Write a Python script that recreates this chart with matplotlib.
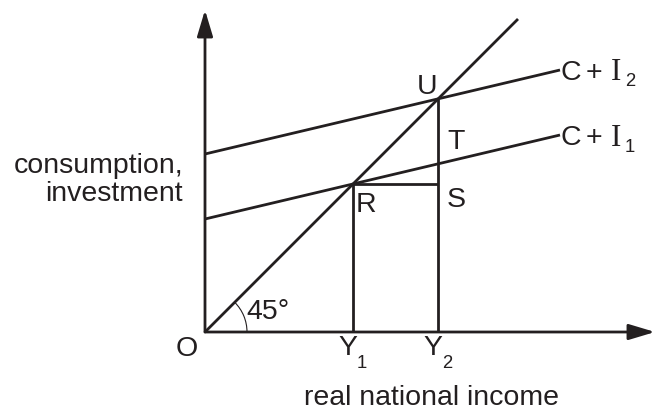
import matplotlib
matplotlib.use("Agg")
import matplotlib.pyplot as plt
from matplotlib.patches import Arc

# ---- data (in chart units, origin at O) ----
x_span = [0, 355]                 # horizontal extent of the C + I lines
ci1_values = [113, 197]           # C + I1 at x_span ends
ci2_values = [178, 262]           # C + I2 at x_span ends
diag_x = [0, 313]                 # 45-degree line
diag_y = [0, 313]
Y1 = 148                          # equilibrium income 1 (point R)
Y2 = 233                          # equilibrium income 2 (point U)
line_subs = ["1", "2"]

INK = "#231f20"
FONT = "Liberation Sans"
FS = 20.5

fig = plt.figure(figsize=(6.56, 4.19), dpi=100)
ax = fig.add_axes([0, 0, 1, 1])
ax.set_xlim(-205, 451)
ax.set_ylim(-87, 332)
ax.axis("off")

lw = 2.0
# axes with arrows
ax.annotate("", xy=(450, 0), xytext=(0, 0),
            arrowprops=dict(arrowstyle="-|>,head_length=0.8,head_width=0.24",
                            mutation_scale=20, lw=lw, color=INK,
                            shrinkA=0, shrinkB=0))
ax.annotate("", xy=(0, 322), xytext=(0, 0),
            arrowprops=dict(arrowstyle="-|>,head_length=0.8,head_width=0.24",
                            mutation_scale=20, lw=lw, color=INK,
                            shrinkA=0, shrinkB=0))

# lines
ax.plot(diag_x, diag_y, color=INK, lw=lw, solid_capstyle="butt")
ax.plot(x_span, ci1_values, color=INK, lw=lw, solid_capstyle="butt")
ax.plot(x_span, ci2_values, color=INK, lw=lw, solid_capstyle="butt")
ax.plot([Y1, Y1], [0, Y1], color=INK, lw=lw, solid_capstyle="butt")
ax.plot([Y2, Y2], [0, Y2], color=INK, lw=lw, solid_capstyle="butt")
ax.plot([Y1, Y2], [Y1, Y1], color=INK, lw=lw, solid_capstyle="butt")

# 45 degree arc
ax.add_patch(Arc((0, 0), 84, 84, theta1=0, theta2=45, color=INK, lw=0.8))
ax.text(63, 20, "45°", fontsize=FS, family=FONT, color=INK, ha="center", va="center")

# point labels
tkw = dict(fontsize=FS, family=FONT, color=INK, ha="center", va="center")
ax.text(222, 245, "U", **tkw)
ax.text(251, 190, "T", **tkw)
ax.text(251, 132, "S", **tkw)
ax.text(161, 127, "R", **tkw)
ax.text(-18, -17, "O", **tkw)

# Y1, Y2
for yv, sub in [(Y1, "1"), (Y2, "2")]:
    ax.text(yv - 5, -16, "Y", **tkw)
    ax.text(yv + 9, -31, sub, fontsize=FS * 0.65, family=FONT, color=INK,
            ha="center", va="center")

# C + I labels
for yend, sub in [(ci1_values[1], line_subs[0]), (ci2_values[1], line_subs[1])]:
    yt = yend - 3
    ax.text(366, yt, "C", **tkw)
    ax.text(389, yt, "+", **tkw)
    ax.text(411.5, yt, "I", fontsize=FS + 2, family="Liberation Serif",
            color=INK, ha="center", va="center")
    ax.text(425, yt - 9, sub, fontsize=FS * 0.65, family=FONT, color=INK,
            ha="center", va="center")

# axis titles
ax.text(-22, 152, "consumption,\ninvestment", fontsize=FS, family=FONT,
        color=INK, ha="right", va="center", linespacing=1.1, multialignment="right")
ax.text(227, -66, "real national income", fontsize=FS, family=FONT,
        color=INK, ha="center", va="center")

fig.savefig("out.png", dpi=100, facecolor="white")
